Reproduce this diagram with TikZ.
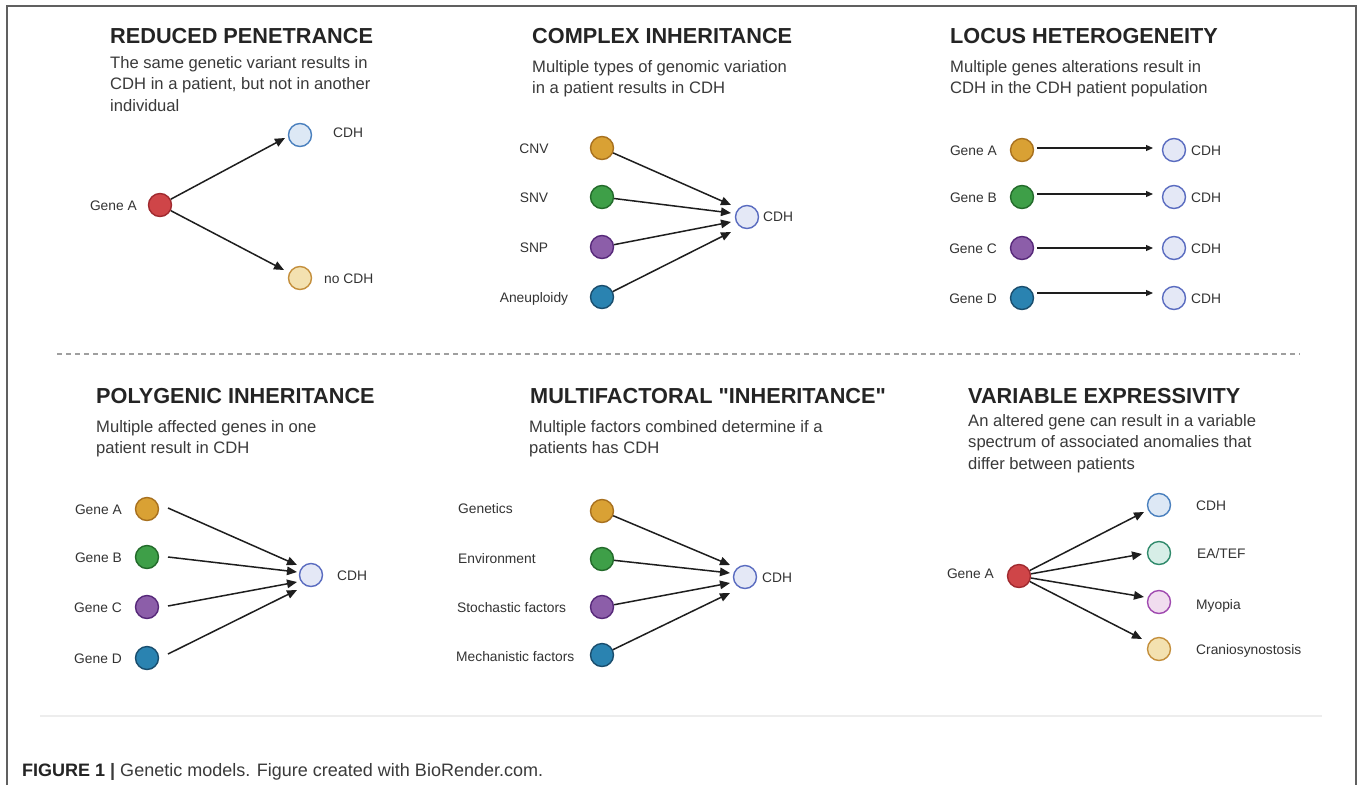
\documentclass[tikz,border=0pt]{standalone}
\usepackage{fontspec}
\setmainfont{Liberation Sans}
\newfontfamily\plainquote{Liberation Sans}[Ligatures=TeXOff]
\usetikzlibrary{arrows.meta,calc}

% palette
\definecolor{titlecol}{HTML}{242424}
\definecolor{subcol}{HTML}{3A3A3A}
\definecolor{labcol}{HTML}{333333}
\definecolor{arrcol}{HTML}{1E1E1E}
\definecolor{framecol}{HTML}{606060}
\definecolor{redF}{HTML}{CF4548}\definecolor{redD}{HTML}{A02A2F}
\definecolor{goldF}{HTML}{D9A134}\definecolor{goldD}{HTML}{A8711F}
\definecolor{greenF}{HTML}{3E9F48}\definecolor{greenD}{HTML}{236B2B}
\definecolor{purpF}{HTML}{8C5EA9}\definecolor{purpD}{HTML}{57297A}
\definecolor{blueF}{HTML}{2A83B1}\definecolor{blueD}{HTML}{1A4E6E}
\definecolor{lavF}{HTML}{E4E8F6}\definecolor{lavD}{HTML}{5A6CC0}
\definecolor{skyF}{HTML}{DDE8F5}\definecolor{skyD}{HTML}{4A80BE}
\definecolor{creamF}{HTML}{F3E1B0}\definecolor{creamD}{HTML}{C48F3C}
\definecolor{mintF}{HTML}{D7EEE7}\definecolor{mintD}{HTML}{2F8A6B}
\definecolor{pinkF}{HTML}{F1DDEF}\definecolor{pinkD}{HTML}{A04AB0}

\tikzset{
  paneltitle/.style={anchor=base west, inner sep=0pt, text=titlecol,
    font=\fontsize{21.7}{26}\selectfont\bfseries},
  % multi-line blurbs: the base anchor sits on the last line
  panelsub/.style={anchor=base west, inner sep=0pt, text=subcol, align=left,
    font=\fontsize{16.6}{21.7}\selectfont},
  lab/.style={inner sep=0pt, text=labcol, font=\fontsize{13.8}{16}\selectfont},
  dot/.style={circle, minimum size=23pt, inner sep=0pt, line width=1.4pt},
  red/.style={dot, fill=redF, draw=redD},
  gold/.style={dot, fill=goldF, draw=goldD},
  green/.style={dot, fill=greenF, draw=greenD},
  purp/.style={dot, fill=purpF, draw=purpD},
  blue/.style={dot, fill=blueF, draw=blueD},
  lav/.style={dot, fill=lavF, draw=lavD},
  sky/.style={dot, fill=skyF, draw=skyD},
  cream/.style={dot, fill=creamF, draw=creamD},
  mint/.style={dot, fill=mintF, draw=mintD},
  pink/.style={dot, fill=pinkF, draw=pinkD},
  arr/.style={draw=arrcol, line width=1.5pt, -{Triangle[length=10pt,width=8.5pt]}},
  thinarr/.style={draw=arrcol, line width=1.2pt, -{Triangle[length=7pt,width=6pt]}},
}

\begin{document}
\begin{tikzpicture}[x=1pt,y=-1pt]
\useasboundingbox (0,0) rectangle (1358,785);
\fill[white] (0,0) rectangle (1358,785);

% outer frame (open at the bottom)
\draw[framecol, line width=1.8pt] (7,785) -- (7,6) -- (1356,6) -- (1356,785);

% separators
\draw[gray!75, line width=1.3pt, dash pattern=on 5pt off 4pt] (57,354) -- (1300,354);
\draw[black!7, line width=1.5pt] (40,716) -- (1322,716);

% ---------- Reduced penetrance ----------
\node[paneltitle] (t1) at (110,43.5) {REDUCED PENETRANCE};
\node[panelsub] (s1) at (110,111.4) {The same genetic variant results in\\CDH in a patient, but not in another\\individual};
\node[red] (p1g) at (160,205) {};
\node[sky] (p1c) at (300,135) {};
\node[cream] (p1n) at (300,278) {};
\node[lab, anchor=base east] (p1gl) at (137,210) {Gene A};
\node[lab, anchor=base west] (p1cl) at (333,137) {CDH};
\node[lab, anchor=base west] (p1nl) at (324,283) {no CDH};
\draw[arr] (p1g) -- ($(p1c)+(-15,3)$);
\draw[arr] (p1g) -- ($(p1n)+(-16,-8)$);

% ---------- Complex inheritance ----------
\node[paneltitle] (t2) at (532,43.5) {COMPLEX INHERITANCE};
\node[panelsub] (s2) at (532,93.7) {Multiple types of genomic variation\\in a patient results in CDH};
\node[gold] (p2a) at (602,148) {};
\node[green] (p2b) at (602,197) {};
\node[purp] (p2c) at (602,247) {};
\node[blue] (p2d) at (602,297) {};
\node[lav] (p2x) at (747,217) {};
\node[lab, anchor=base] (p2al) at (534,153) {CNV};
\node[lab, anchor=base] (p2bl) at (534,202) {SNV};
\node[lab, anchor=base] (p2cl) at (534,252) {SNP};
\node[lab, anchor=base] (p2dl) at (534,302) {Aneuploidy};
\node[lab, anchor=base west] (p2xl) at (763,221) {CDH};
\draw[arr] (p2a) -- ($(p2x)+(-16,-12)$);
\draw[arr] (p2b) -- ($(p2x)+(-16,-4)$);
\draw[arr] (p2c) -- ($(p2x)+(-16,5)$);
\draw[arr] (p2d) -- ($(p2x)+(-16,15)$);

% ---------- Locus heterogeneity ----------
\node[paneltitle] (t3) at (950,43.5) {LOCUS HETEROGENEITY};
\node[panelsub] (s3) at (950,93.7) {Multiple genes alterations result in\\CDH in the CDH patient population};
\foreach \k/\y/\c/\g/\dy in {a/150/gold/A/-2, b/197/green/B/-3, c/248/purp/C/0, d/298/blue/D/-5}{
  \node[\c] (p3\k) at (1022,\y) {};
  \node[lav] (p3\k x) at (1174,\y) {};
  \node[lab, anchor=base east] (p3\k l) at (997,\y+5) {Gene \g};
  \node[lab, anchor=base west] (p3\k xl) at (1191,\y+5) {CDH};
  \draw[thinarr] ($(p3\k)+(15,\dy)$) -- ($(p3\k x)+(-21,\dy)$);
}

% ---------- Polygenic inheritance ----------
\node[paneltitle] (t4) at (96,403) {POLYGENIC INHERITANCE};
\node[panelsub] (s4) at (96,453.7) {Multiple affected genes in one\\patient result in CDH};
\node[gold] (p4a) at (147,509) {};
\node[green] (p4b) at (147,557) {};
\node[purp] (p4c) at (147,607) {};
\node[blue] (p4d) at (147,658) {};
\node[lav] (p4x) at (311,575) {};
\node[lab, anchor=base east] (p4al) at (122,514) {Gene A};
\node[lab, anchor=base east] (p4bl) at (122,562) {Gene B};
\node[lab, anchor=base east] (p4cl) at (122,612) {Gene C};
\node[lab, anchor=base east] (p4dl) at (122,663) {Gene D};
\node[lab, anchor=base west] (p4xl) at (337,580) {CDH};
\draw[arr] ($(p4a)+(21,-1)$) -- ($(p4x)+(-14,-10)$);
\draw[arr] ($(p4b)+(21,0)$) -- ($(p4x)+(-14,-3)$);
\draw[arr] ($(p4c)+(21,-1)$) -- ($(p4x)+(-14,7)$);
\draw[arr] ($(p4d)+(21,-4)$) -- ($(p4x)+(-14,15)$);

% ---------- Multifactoral inheritance ----------
\node[paneltitle] (t5) at (530,403) {MULTIFACTORAL {\plainquote"}INHERITANCE{\plainquote"}};
\node[panelsub] (s5) at (529,453.7) {Multiple factors combined determine if a\\patients has CDH};
\node[gold] (p5a) at (602,511) {};
\node[green] (p5b) at (602,559) {};
\node[purp] (p5c) at (602,607) {};
\node[blue] (p5d) at (602,655) {};
\node[lav] (p5x) at (745,577) {};
\node[lab, anchor=base west] (p5al) at (458,513) {Genetics};
\node[lab, anchor=base west] (p5bl) at (458,563) {Environment};
\node[lab, anchor=base west] (p5cl) at (457,612) {Stochastic factors};
\node[lab, anchor=base west] (p5dl) at (456,661) {Mechanistic factors};
\node[lab, anchor=base west] (p5xl) at (762,582) {CDH};
\draw[arr] (p5a) -- ($(p5x)+(-15,-12)$);
\draw[arr] (p5b) -- ($(p5x)+(-15,-4)$);
\draw[arr] (p5c) -- ($(p5x)+(-15,6)$);
\draw[arr] (p5d) -- ($(p5x)+(-15,16)$);

% ---------- Variable expressivity ----------
\node[paneltitle] (t6) at (968,403) {VARIABLE EXPRESSIVITY};
\node[panelsub] (s6) at (968,469.4) {An altered gene can result in a variable\\spectrum of associated anomalies that\\differ between patients};
\node[red] (p6g) at (1019,576) {};
\node[sky] (p6a) at (1159,505) {};
\node[mint] (p6b) at (1159,553) {};
\node[pink] (p6c) at (1159,602) {};
\node[cream] (p6d) at (1159,649) {};
\node[lab, anchor=base east] (p6gl) at (994,578) {Gene A};
\node[lab, anchor=base west] (p6al) at (1196,510) {CDH};
\node[lab, anchor=base west] (p6bl) at (1197,558) {EA/TEF};
\node[lab, anchor=base west] (p6cl) at (1196,609) {Myopia};
\node[lab, anchor=base west] (p6dl) at (1196,654) {Craniosynostosis};
\draw[arr] (p6g) -- ($(p6a)+(-15,7)$);
\draw[arr] (p6g) -- ($(p6b)+(-17,1)$);
\draw[arr] (p6g) -- ($(p6c)+(-15,-5)$);
\draw[arr] (p6g) -- ($(p6d)+(-17,-10)$);

% ---------- caption ----------
\node[anchor=base west, inner sep=0pt, font=\fontsize{18}{20}\selectfont, text=subcol] (cap) at (22,776)
  {{\bfseries\color{titlecol}FIGURE 1} {\bfseries |} Genetic models. Figure created with BioRender.com.};
\end{tikzpicture}
\end{document}
